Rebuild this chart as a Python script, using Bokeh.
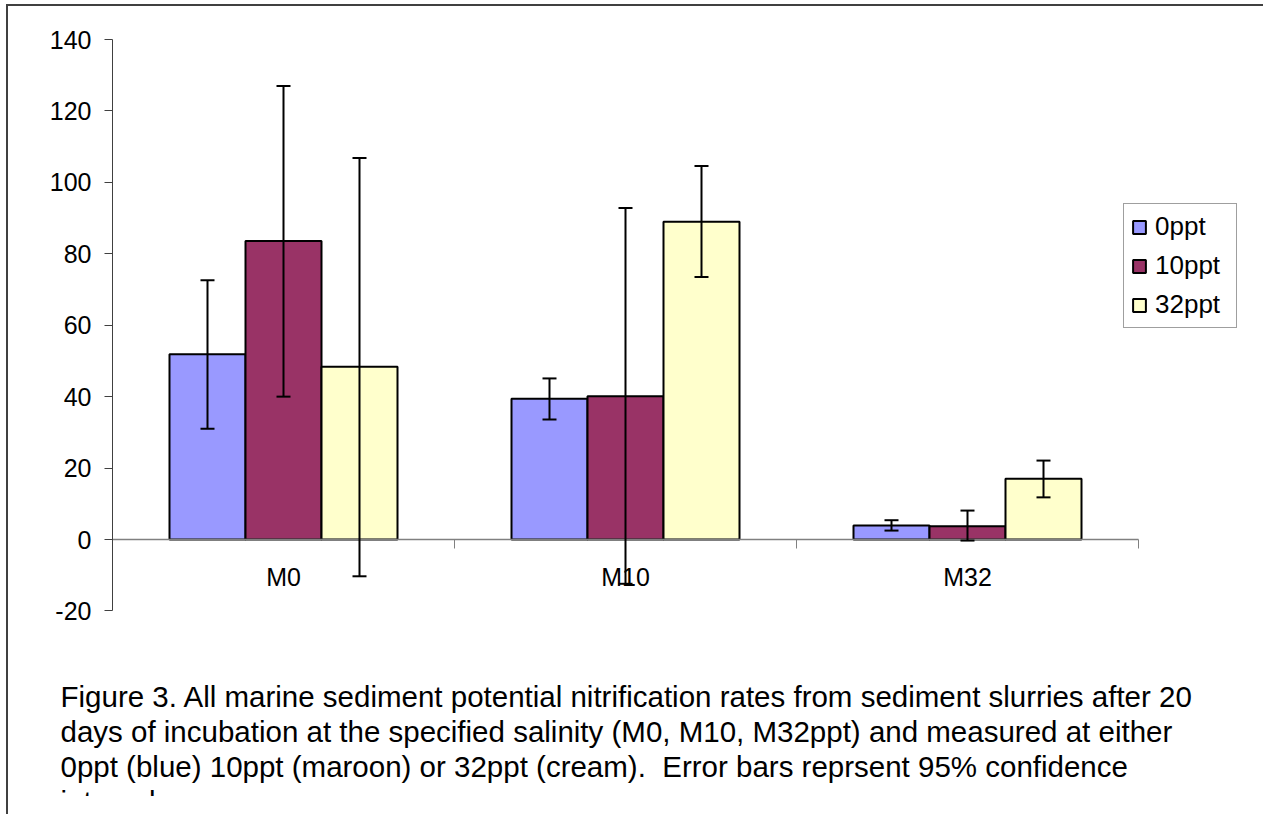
from bokeh.plotting import figure
from bokeh.models import (Range1d, ColumnDataSource, Whisker, TeeHead, FixedTicker,
                          Legend, LegendItem, Label, InlineStyleSheet)
from bokeh.embed import file_html
from bokeh.resources import INLINE

# ---------------- data ----------------
categories = ["M0", "M10", "M32"]
series = ["0ppt", "10ppt", "32ppt"]
colors = ["#9999FF", "#993366", "#FFFFCC"]

values_0ppt = [51.9, 39.4, 3.9]
values_10ppt = [83.6, 40.1, 3.7]
values_32ppt = [48.4, 89.0, 17.0]

upper_0ppt = [72.6, 45.1, 5.4]
lower_0ppt = [31.0, 33.6, 2.5]
upper_10ppt = [127.0, 92.8, 8.1]
lower_10ppt = [40.0, -12.4, -0.3]
upper_32ppt = [106.8, 104.6, 22.1]
lower_32ppt = [-10.3, 73.5, 11.8]

y_ticks = [-20, 0, 20, 40, 60, 80, 100, 120, 140]
y_tick_labels = ["-20", "0", "20", "40", "60", "80", "100", "120", "140"]

caption_lines = [
    "Figure 3. All marine sediment potential nitrification rates from sediment slurries after 20",
    "days of incubation at the specified salinity (M0, M10, M32ppt) and measured at either",
    "0ppt (blue) 10ppt (maroon) or 32ppt (cream).\u00a0 Error bars reprsent 95% confidence",
    "intervals.",
]

values = [values_0ppt, values_10ppt, values_32ppt]
uppers = [upper_0ppt, upper_10ppt, upper_32ppt]
lowers = [lower_0ppt, lower_10ppt, lower_32ppt]

# ---------------- layout constants (pixels) ----------------
W, H = 1257, 790            # canvas size
AX_X = 104                  # canvas x of the y axis
CAT_PX = 342                # pixels per category
ZERO_Y = 533                # canvas y of value 0
PX_PER_UNIT = 500 / 140     # pixels per y unit

FONT = "Liberation Sans"
bar_w = 1 / 4.5

x_range = Range1d(-AX_X / CAT_PX, (W - AX_X) / CAT_PX)
y_range = Range1d(-(H - ZERO_Y) / PX_PER_UNIT, ZERO_Y / PX_PER_UNIT)

p = figure(width=W, height=H, output_backend="svg", toolbar_location=None, title=None,
           x_range=x_range, y_range=y_range,
           min_border_left=0, min_border_right=0, min_border_top=0, min_border_bottom=0)
p.margin = (6, 0, 0, 8)
p.outline_line_color = None
p.xgrid.grid_line_color = None
p.ygrid.grid_line_color = None
p.background_fill_color = "white"
p.border_fill_color = "white"
p.stylesheets = [InlineStyleSheet(css="""
:host { box-shadow: -2px -2px 0 0 #404040; overflow: visible; }
:host::after { content: ""; position: absolute; left: -2px; top: -2px;
               width: 2px; height: 830px; background: #404040; }
""")]

legend_items = []
for j, (name, col) in enumerate(zip(series, colors)):
    xs = [i + 0.5 + (j - 1) * bar_w for i in range(len(categories))]
    src = ColumnDataSource(dict(x=xs, top=values[j], upper=uppers[j], lower=lowers[j]))
    r = p.vbar(x="x", top="top", bottom=0, width=bar_w, source=src,
               fill_color=col, line_color="black", line_width=2)
    legend_items.append(LegendItem(label=name, renderers=[r]))
    wk = Whisker(base="x", upper="upper", lower="lower", source=src,
                 line_color="black", line_width=2, level="annotation",
                 upper_head=TeeHead(size=14, line_width=2, line_color="black"),
                 lower_head=TeeHead(size=14, line_width=2, line_color="black"))
    p.add_layout(wk)

# y axis at x = 0
yax = p.yaxis[0]
yax.fixed_location = 0
yax.bounds = (y_ticks[0], y_ticks[-1])
yax.ticker = FixedTicker(ticks=y_ticks)
yax.major_label_overrides = dict(zip(y_ticks, y_tick_labels))
yax.major_tick_out = 8
yax.major_tick_in = 0
yax.minor_tick_line_color = None
yax.axis_line_color = "#404040"
yax.major_tick_line_color = "#404040"
yax.major_label_standoff = 13
yax.major_label_text_font = FONT
yax.major_label_text_font_size = "25px"
yax.major_label_text_color = "black"

# x axis at y = 0
xax = p.xaxis[0]
xax.fixed_location = 0
xax.bounds = (0, len(categories))
xax.ticker = FixedTicker(ticks=[i + 0.5 for i in range(len(categories))],
                         minor_ticks=list(range(len(categories) + 1)))
xax.major_label_overrides = {i + 0.5: c for i, c in enumerate(categories)}
xax.major_tick_out = 0
xax.major_tick_in = 0
xax.minor_tick_out = 9
xax.minor_tick_in = 0
xax.minor_tick_line_color = "#808080"
xax.axis_line_color = "#808080"
xax.axis_line_width = 1.5
xax.major_label_standoff = 14
xax.major_label_text_font = FONT
xax.major_label_text_font_size = "25px"
xax.major_label_text_color = "black"

legend = Legend(items=legend_items, location=(1115, 468), orientation="vertical",
                label_text_font=FONT, label_text_font_size="26px", label_text_color="black",
                glyph_width=16, glyph_height=16, label_standoff=8, spacing=8,
                label_width=74, padding=7, margin=0,
                border_line_color="#404040", border_line_width=1.5,
                background_fill_color="white", background_fill_alpha=1)
p.add_layout(legend, "center")

for k, line in enumerate(caption_lines):
    p.add_layout(Label(x=52, y=100 - 35 * k, x_units="screen", y_units="screen",
                       text=line, text_font=FONT, text_font_size="29.5px",
                       text_color="black", text_baseline="alphabetic"))

open("out.html", "w").write(file_html(p, INLINE))
